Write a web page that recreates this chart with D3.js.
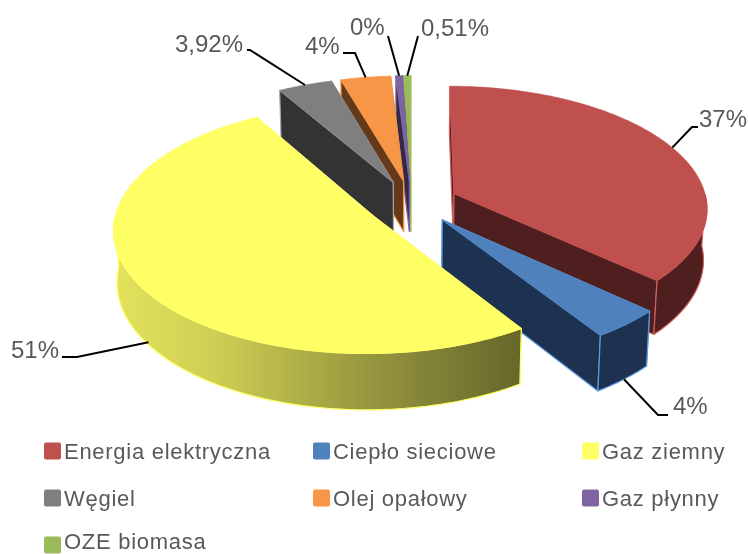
<!DOCTYPE html>
<html>
<head>
<meta charset="utf-8">
<script src="https://cdnjs.cloudflare.com/ajax/libs/d3/7.8.5/d3.min.js"></script>
<style>
html,body{margin:0;padding:0;background:#fff}
svg{display:block;filter:blur(0.45px)}
text{font-family:"Liberation Sans",Arial,sans-serif;fill:#595959}
</style>
</head>
<body>
<svg id="chart" width="748" height="554"></svg>
<script>
// --- data ---
const categories = ["Energia elektryczna","Ciepło sieciowe","Gaz ziemny","Węgiel","Olej opałowy","Gaz płynny","OZE biomasa"];
const values = [37, 4, 51, 3.92, 3.6, 0.47, 0.51];
const valueLabels = ["37%","4%","51%","3,92%","4%","0%","0,51%"];
// --- styles ---
const topColors  = ["#C0504D","#4F81BD","#FFFF66","#7F7F7F","#F79646","#8064A2","#9BBB59"];
const wallColors = ["#4E1F1E","#1D3250","#FFFF66","#333333","#653A1B","#33284A","#3F4C24"];
const edgeColors = ["#D0605C","#5F9BDD","#FFFF66","#A6A6A6","#F79646","#8064A2","#9BBB59"];
// --- layout: label anchor and elbow of each leader ---
const labelX = [699, 673, 11, 175, 305, 350, 421];
const labelY = [127, 414, 358, 52, 54, 35, 36];
const elbows = [[[692,127],[698,127]],[[658,415],[668,415]],[[77,357],[62,357]],[[250,50],[247,50]],[[355,53],[343,53]],[[388,36]],[[418,36]]];
const legendCols = [44, 313, 582];
const legendRows = [451, 498, 545];

// --- projection of the tilted disc ---
const ox = 411.5, oy = 202.5, A = 253, B = 121, C = 52, k = 0.11, m = 0.012, explode = 0.185;
function project(X, Y, Z) {
  const w = 1 + k * Y + m * Z;
  return [ox + A * X / w, oy + (-B * Y + C * Z) / w];
}

const svg = d3.select("#chart");
const defs = svg.append("defs");
const grad = defs.append("linearGradient").attr("id","yellowWall")
  .attr("gradientUnits","userSpaceOnUse").attr("x1",118).attr("x2",522).attr("y1",0).attr("y2",0);
[[0,"#E2E25C"],[0.25,"#CDCD54"],[0.5,"#A8A845"],[0.75,"#858538"],[1,"#66662A"]]
  .forEach(s => grad.append("stop").attr("offset",s[0]).attr("stop-color",s[1]));

const pie = d3.pie().sort(null).value(d => d);
const arcs = pie(values);
const line = d3.line();

const slices = arcs.map((a, i) => {
  const mid = (a.startAngle + a.endAngle) / 2;
  const ex = explode * Math.sin(mid), ey = explode * Math.cos(mid);
  const rim = t => [ex + Math.sin(t), ey + Math.cos(t)];
  const n = Math.max(2, Math.ceil((a.endAngle - a.startAngle) / 0.015));
  const angles = d3.range(n + 1).map(j => a.startAngle + (a.endAngle - a.startAngle) * j / n);
  return {i, mid, ex, ey, rim, angles, start: a.startAngle, end: a.endAngle};
});

// painter's order: far slices first, the largest near slice last
const drawOrder = [6, 5, 4, 3, 0, 1, 2];
drawOrder.forEach(idx => {
  const s = slices[idx];
  const g = svg.append("g");
  const wallFill = s.i === 2 ? "url(#yellowWall)" : wallColors[s.i];
  const radial = [s.start, s.end].sort((p, q) => s.rim(q)[1] - s.rim(p)[1]);
  radial.forEach(t => {
    const r = s.rim(t);
    const pts = [project(s.ex,s.ey,0), project(r[0],r[1],0), project(r[0],r[1],1), project(s.ex,s.ey,1)];
    g.append("path").attr("d", line(pts) + "Z").attr("fill", wallFill)
      .attr("stroke", edgeColors[s.i]).attr("stroke-width", 1.2).attr("stroke-linejoin","round");
  });
  // outer wall: only the part of the rim that faces the viewer
  const front = s.angles.filter(t => Math.cos(t) <= 0);
  if (front.length > 1) {
    const outer = front.map(t => { const r = s.rim(t); return project(r[0], r[1], 0); })
      .concat(front.slice().reverse().map(t => { const r = s.rim(t); return project(r[0], r[1], 1); }));
    g.append("path").attr("d", line(outer) + "Z").attr("fill", wallFill)
      .attr("stroke", edgeColors[s.i]).attr("stroke-width", 1.2).attr("stroke-linejoin","round");
  }
  const top = [project(s.ex,s.ey,0)].concat(s.angles.map(t => { const r = s.rim(t); return project(r[0], r[1], 0); }));
  g.append("path").attr("d", line(top) + "Z").attr("fill", topColors[s.i])
    .attr("stroke", topColors[s.i]).attr("stroke-width", 0.6).attr("stroke-linejoin","round");
});

// leaders, starting on the rim of each slice
const leaderZ = [0, 1, 0.95, 0, 0, 0, 0];
const leaderTurn = [0, 0, -0.06, 0, 0, 0, 0];
slices.forEach(s => {
  const r = s.rim(s.mid + leaderTurn[s.i]);
  const from = project(r[0], r[1], leaderZ[s.i]);
  svg.append("path").attr("d", line([from].concat(elbows[s.i])))
    .attr("fill","none").attr("stroke","#000").attr("stroke-width",2);
});

// value labels
svg.selectAll("text.val").data(valueLabels).join("text").attr("class","val")
  .attr("x",(d,i)=>labelX[i]).attr("y",(d,i)=>labelY[i])
  .attr("font-size",24).text(d=>d);

// legend
const legend = svg.selectAll("g.leg").data(categories).join("g").attr("class","leg")
  .attr("transform",(d,i)=>`translate(${legendCols[i%3]},${legendRows[Math.floor(i/3)]})`);
legend.append("rect").attr("x",0).attr("y",-8.5).attr("width",17).attr("height",17).attr("rx",2)
  .attr("fill",(d,i)=>topColors[i]);
legend.append("text").attr("x",20)
  .attr("y",(d,i)=>Math.min(7.5, 549.2 - legendRows[Math.floor(i/3)]))
  .attr("font-size",22).attr("letter-spacing",0.72).text(d=>d);
</script>
</body>
</html>
